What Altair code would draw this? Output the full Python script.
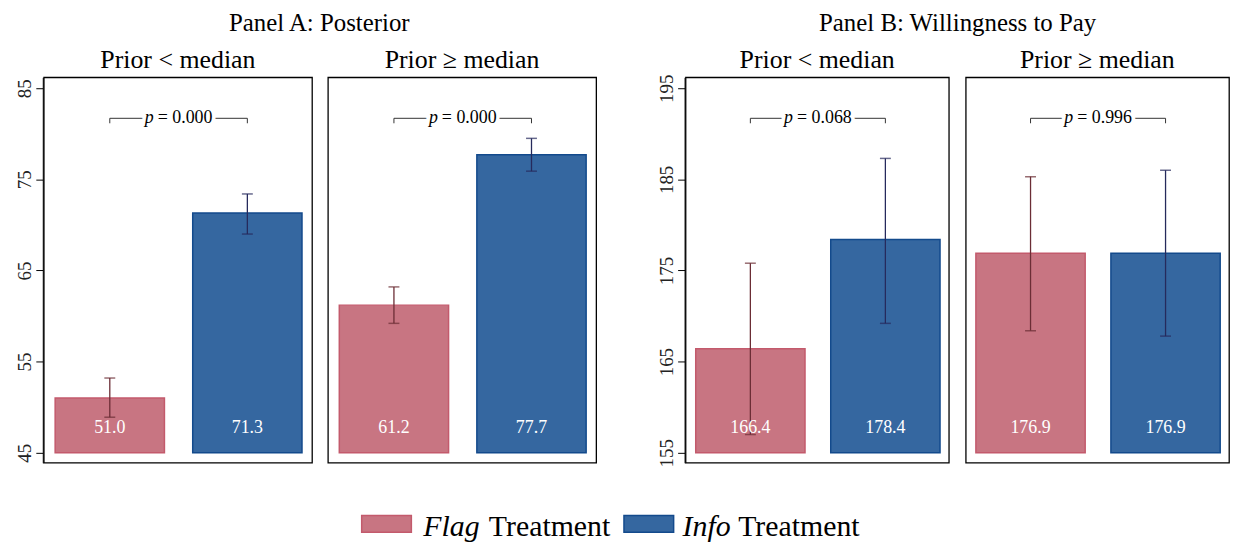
import altair as alt
import pandas as pd

FONT = "Liberation Serif"

# ---------------- data ----------------
groups = ["Prior < median", "Prior ≥ median"]
treatments = ["Flag", "Info"]

# Panel A: Posterior
a_flag_mean = [51.0, 61.2]
a_flag_lo = [48.9, 59.2]
a_flag_hi = [53.2, 63.2]
a_info_mean = [71.3, 77.7]
a_info_lo = [69.0, 75.9]
a_info_hi = [73.4, 79.5]
a_pvals = ["0.000", "0.000"]
a_bracket = [81.7, 81.7]
a_base = 45
a_ticks = [45, 55, 65, 75, 85]
a_domain = [43.9, 86.2]

# Panel B: Willingness to Pay
b_flag_mean = [166.4, 176.9]
b_flag_lo = [157.0, 168.4]
b_flag_hi = [175.8, 185.3]
b_info_mean = [178.4, 176.9]
b_info_lo = [169.2, 167.8]
b_info_hi = [187.3, 186.0]
b_pvals = ["0.068", "0.996"]
b_bracket = [191.7, 191.7]
b_base = 155
b_ticks = [155, 165, 175, 185, 195]
b_domain = [153.9, 196.2]

FILL = {"Flag": "#c87582", "Info": "#3567a0"}
STROKE = {"Flag": "#c35a6c", "Info": "#134a8c"}
ERR = {"Flag": "#6b2d35", "Info": "#262a5c"}


def make_df(fm, flo, fhi, im, ilo, ihi, pv, br, base):
    rows = []
    for g in range(2):
        for t, (m, lo, hi) in enumerate([(fm[g], flo[g], fhi[g]), (im[g], ilo[g], ihi[g])]):
            rows.append(dict(kind="bar", group=groups[g], treatment=treatments[t], pos=t,
                             value=m, lo=lo, hi=hi, base=base))
        rows.append(dict(kind="p", group=groups[g], x0=0, x1=1, xm=0.5, by=br[g],
                         ptxt="= " + pv[g], pfull="p = " + pv[g]))
    return pd.DataFrame(rows)


def panel(df, domain, ticks, title, width, spacing, title_dx):
    xs = alt.Scale(domain=[-0.48, 1.47], padding=0, nice=False, zero=False)
    ys = alt.Scale(domain=domain, nice=False, zero=False, padding=0)
    yaxis = alt.Axis(values=ticks, grid=False, labelAngle=270, labelAlign="center",
                     labelBaseline="bottom", labelFontSize=19, labelFont=FONT,
                     labelColor="#222", tickSize=7, tickColor="black", domainColor="black",
                     labelPadding=1, labelFlush=False, labelOverlap=False)
    fill_s = alt.Scale(domain=treatments, range=[FILL[t] for t in treatments])
    stroke_s = alt.Scale(domain=treatments, range=[STROKE[t] for t in treatments])
    err_s = alt.Scale(domain=treatments, range=[ERR[t] for t in treatments])

    bars_base = alt.Chart().transform_filter("datum.kind == 'bar'")
    p_base = alt.Chart().transform_filter("datum.kind == 'p'")

    bars = bars_base.mark_bar(size=110, strokeWidth=1.5).encode(
        x=alt.X("pos:Q", scale=xs, axis=None),
        y=alt.Y("value:Q", scale=ys, axis=yaxis, title=None),
        y2="base:Q",
        fill=alt.Fill("treatment:N", scale=fill_s, legend=None),
        stroke=alt.Stroke("treatment:N", scale=stroke_s, legend=None),
    )
    err = bars_base.mark_rule(strokeWidth=1.3).encode(
        x=alt.X("pos:Q", axis=None),
        y=alt.Y("lo:Q", title=None),
        y2="hi:Q",
        color=alt.Color("treatment:N", scale=err_s, legend=None),
    )
    cap_lo = bars_base.mark_tick(orient="horizontal", size=11, thickness=1.5).encode(
        x=alt.X("pos:Q", axis=None),
        y=alt.Y("lo:Q", title=None),
        color=alt.Color("treatment:N", scale=err_s, legend=None),
    )
    cap_hi = bars_base.mark_tick(orient="horizontal", size=11, thickness=1.5).encode(
        x=alt.X("pos:Q", axis=None),
        y=alt.Y("hi:Q", title=None),
        color=alt.Color("treatment:N", scale=err_s, legend=None),
    )
    vlab = bars_base.mark_text(color="white", fontSize=18, font=FONT, baseline="middle",
                               dy=-25).encode(
        x=alt.X("pos:Q", axis=None),
        y=alt.Y("base:Q", title=None),
        text=alt.Text("value:Q", format=".1f"),
    )
    br_line = p_base.mark_rule(color="#333", strokeWidth=1).encode(
        x=alt.X("x0:Q", axis=None), x2="x1:Q", y=alt.Y("by:Q", title=None))
    br_l = p_base.mark_rule(color="#333", strokeWidth=1, y2Offset=5).encode(
        x=alt.X("x0:Q", axis=None), y=alt.Y("by:Q", title=None), y2="by:Q")
    br_r = p_base.mark_rule(color="#333", strokeWidth=1, y2Offset=5).encode(
        x=alt.X("x1:Q", axis=None), y=alt.Y("by:Q", title=None), y2="by:Q")
    halo = p_base.mark_text(fontSize=18, font=FONT, color="white", stroke="white",
                            strokeWidth=7, baseline="middle").encode(
        x=alt.X("xm:Q", axis=None), y=alt.Y("by:Q", title=None), text="pfull:N")
    p_it = p_base.mark_text(fontSize=18, font=FONT, fontStyle="italic", color="black",
                            align="right", baseline="middle", dx=-25, text="p").encode(
        x=alt.X("xm:Q", axis=None), y=alt.Y("by:Q", title=None))
    p_rest = p_base.mark_text(fontSize=18, font=FONT, color="black", align="left",
                              baseline="middle", dx=-21).encode(
        x=alt.X("xm:Q", axis=None), y=alt.Y("by:Q", title=None), text="ptxt:N")

    layer = alt.layer(bars, err, cap_lo, cap_hi, vlab, br_line, br_l, br_r, halo, p_it,
                      p_rest, data=df).properties(width=width, height=388)
    return layer.facet(
        column=alt.Column("group:N", sort=groups,
                          header=alt.Header(title=None, labelFont=FONT, labelFontSize=26,
                                            labelColor="black", labelPadding=3)),
        spacing=spacing,
    ).properties(title=alt.TitleParams(title, font=FONT, fontSize=25, fontWeight="normal",
                                       color="black", anchor="middle", dx=title_dx,
                                       offset=12))


dfa = make_df(a_flag_mean, a_flag_lo, a_flag_hi, a_info_mean, a_info_lo, a_info_hi,
              a_pvals, a_bracket, a_base)
dfb = make_df(b_flag_mean, b_flag_lo, b_flag_hi, b_info_mean, b_info_lo, b_info_hi,
              b_pvals, b_bracket, b_base)

pa = panel(dfa, a_domain, a_ticks, "Panel A: Posterior", 270, 14, 13)
pb = panel(dfb, b_domain, b_ticks, "Panel B: Willingness to Pay", 265, 15, 14)

# ---------------- legend ----------------
leg_df = pd.DataFrame({"k": [0]})
legend_names = ["Flag", "Info"]
leg_x = [320, 584]
text_gap = {"Flag": 62, "Info": 59}
italic_w = {"Flag": 66, "Info": 56}
layers = []
for i, t in enumerate(treatments):
    x0 = leg_x[i]
    layers.append(alt.Chart(leg_df).mark_rect(fill=FILL[t], stroke=STROKE[t], strokeWidth=1.5).encode(
        x=alt.value(x0), x2=alt.value(x0 + 50), y=alt.value(6), y2=alt.value(23)))
    layers.append(alt.Chart(leg_df).mark_text(text=legend_names[i], font=FONT, fontSize=30,
                                              fontStyle="italic", align="left",
                                              baseline="alphabetic", color="black").encode(
        x=alt.value(x0 + text_gap[t]), y=alt.value(27)))
    layers.append(alt.Chart(leg_df).mark_text(text="Treatment", font=FONT, fontSize=30,
                                              align="left", baseline="alphabetic",
                                              color="black").encode(
        x=alt.value(x0 + text_gap[t] + italic_w[t]), y=alt.value(27)))
legend = alt.layer(*layers).properties(width=900, height=30,
                                       view=alt.ViewBackground(stroke="transparent"))

top = alt.hconcat(pa, pb, spacing=61)
chart = alt.vconcat(top, legend, spacing=41).properties(
    padding={"left": 8, "top": 1, "right": 0, "bottom": 0}
).configure(font=FONT).configure_view(stroke="black", strokeWidth=1.3)

chart.save("out.html", embed_options={"renderer": "svg", "actions": False})
